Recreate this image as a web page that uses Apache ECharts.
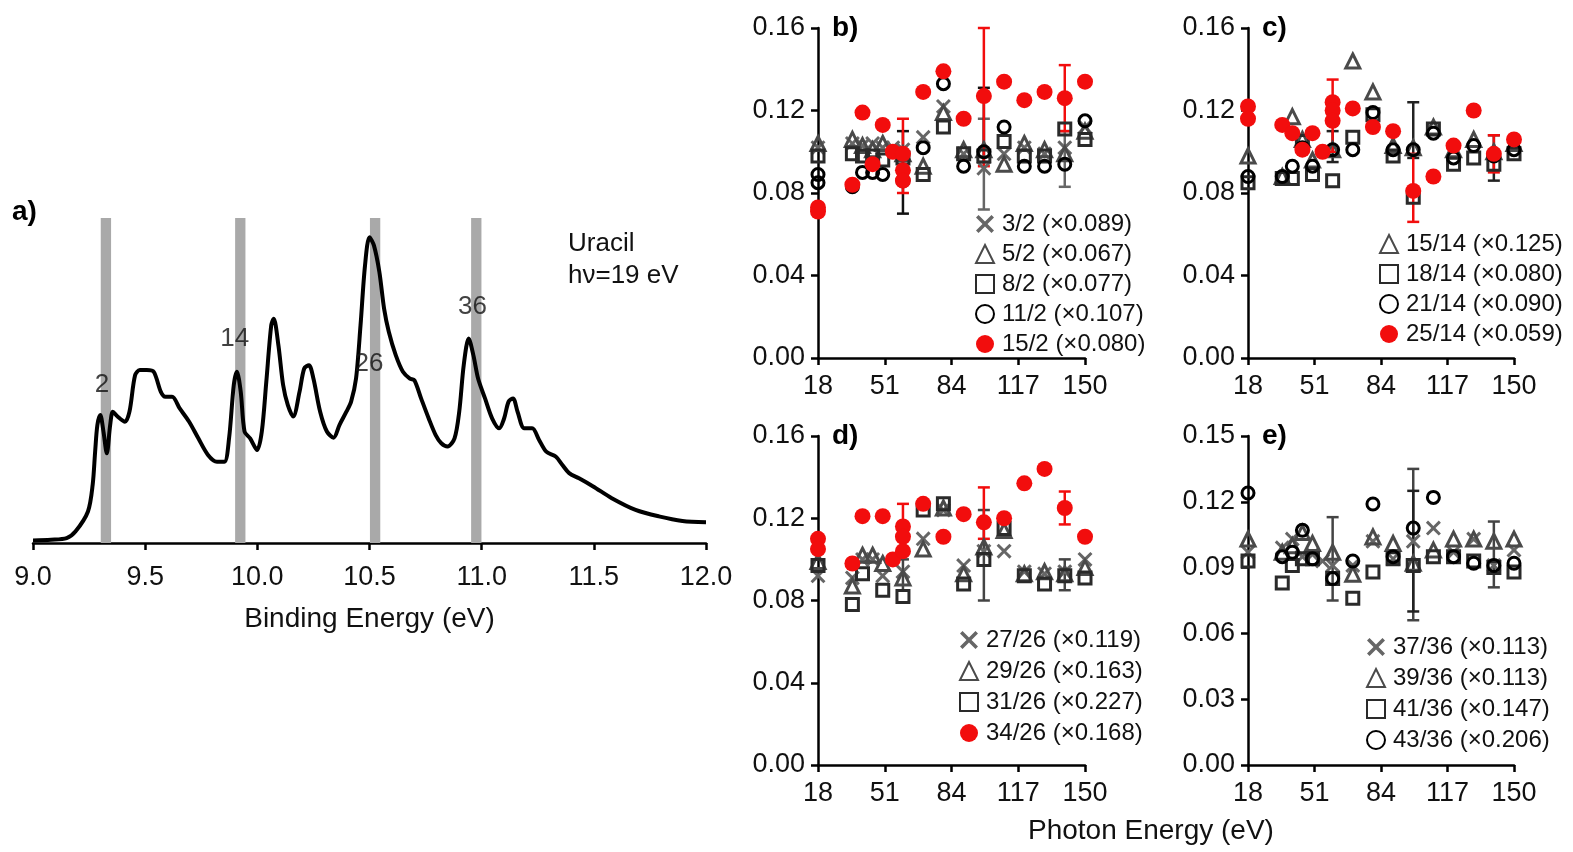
<!DOCTYPE html>
<html>
<head>
<meta charset="utf-8">
<script src="https://cdn.jsdelivr.net/npm/echarts@6/dist/echarts.min.js"></script>
<style>
  html, body { margin: 0; padding: 0; background: #fff; }
  #chart { width: 1573px; height: 852px; }
</style>
</head>
<body>
<div id="chart"></div>
<script>
// ---- panel a: photoelectron spectrum ----
const spectrumEnergy = [9.0, 9.08, 9.15, 9.19, 9.245, 9.266, 9.277, 9.287, 9.30, 9.314, 9.329, 9.344, 9.356, 9.377, 9.41, 9.43,
  9.455, 9.476, 9.507, 9.538, 9.57, 9.59, 9.62, 9.654, 9.696, 9.737, 9.78, 9.82, 9.853, 9.874, 9.895, 9.909, 9.926,
  9.943, 9.968, 9.999, 10.02, 10.04, 10.062, 10.073, 10.094, 10.115, 10.136, 10.16, 10.188, 10.209, 10.23, 10.25,
  10.28, 10.31, 10.34, 10.366, 10.397, 10.418, 10.44, 10.46, 10.48, 10.50, 10.52, 10.544, 10.565, 10.586, 10.617,
  10.649, 10.68, 10.70, 10.73, 10.764, 10.795, 10.82, 10.848, 10.879, 10.90, 10.92, 10.942, 10.963, 10.984, 11.015,
  11.047, 11.078, 11.10, 11.12, 11.14, 11.16, 11.19, 11.225, 11.256, 11.288, 11.33, 11.36, 11.39, 11.434, 11.497,
  11.58, 11.686, 11.79, 11.895, 12.0];
const spectrumIntensity = [0.008, 0.010, 0.015, 0.036, 0.097, 0.179, 0.281, 0.363, 0.394, 0.343, 0.276, 0.363, 0.404, 0.389, 0.373, 0.404,
  0.516, 0.532, 0.532, 0.527, 0.465, 0.450, 0.450, 0.414, 0.373, 0.322, 0.271, 0.250, 0.250, 0.322, 0.486, 0.527, 0.465,
  0.343, 0.322, 0.286, 0.343, 0.496, 0.670, 0.690, 0.608, 0.486, 0.424, 0.389, 0.465, 0.537, 0.547, 0.506,
  0.404, 0.343, 0.324, 0.363, 0.404, 0.435, 0.506, 0.670, 0.854, 0.941, 0.915, 0.834, 0.721, 0.650, 0.578,
  0.527, 0.506, 0.501, 0.445, 0.383, 0.332, 0.307, 0.297, 0.322, 0.404, 0.547, 0.629, 0.578, 0.506, 0.445,
  0.383, 0.353, 0.383, 0.435, 0.445, 0.404, 0.353, 0.353, 0.317, 0.281, 0.266, 0.240, 0.215, 0.199, 0.174,
  0.138, 0.102, 0.082, 0.068, 0.064];
const bandRanges = [[9.302, 9.348], [9.901, 9.947], [10.502, 10.548], [10.953, 10.999]];
const bandLabels = ['2', '14', '26', '36'];
const bandLabelPos = [[9.308, 0.486], [9.899, 0.629], [10.498, 0.552], [10.959, 0.726]];
const bindingTicks = [9.0, 9.5, 10.0, 10.5, 11.0, 11.5, 12.0];

// ---- panels b-e: photon energy dependence ----
const photonTicks = [18, 51, 84, 117, 150];

// b) ratios to band 2
const b_3_2 = [[18, 0.102], [35, 0.104], [40, 0.103], [45, 0.104], [50, 0.102], [55, 0.102], [60, 0.101], [70, 0.107], [80, 0.122], [90, 0.099], [100, 0.092], [110, 0.099], [120, 0.102], [130, 0.099], [140, 0.102], [150, 0.112]];
const b_5_2 = [[18, 0.104], [35, 0.106], [40, 0.103], [45, 0.101], [50, 0.104], [60, 0.099], [70, 0.093], [80, 0.119], [90, 0.101], [100, 0.101], [110, 0.094], [120, 0.104], [130, 0.101], [140, 0.099], [150, 0.110]];
const b_8_2 = [[18, 0.098], [35, 0.099], [40, 0.098], [45, 0.098], [50, 0.096], [60, 0.097], [70, 0.089], [80, 0.112], [90, 0.099], [100, 0.098], [110, 0.105], [120, 0.098], [130, 0.098], [140, 0.111], [150, 0.106]];
const b_11_2 = [[18, 0.089], [18, 0.085], [35, 0.083], [40, 0.090], [45, 0.090], [50, 0.089], [60, 0.086], [70, 0.102], [80, 0.133], [90, 0.093], [100, 0.100], [110, 0.112], [120, 0.093], [130, 0.093], [140, 0.094], [150, 0.115]];
const b_15_2 = [[18, 0.073], [18, 0.071], [35, 0.084], [40, 0.119], [45, 0.094], [50, 0.113], [55, 0.100], [60, 0.099], [60, 0.091], [60, 0.086], [70, 0.129], [80, 0.139], [90, 0.116], [100, 0.127], [110, 0.134], [120, 0.125], [130, 0.129], [140, 0.126], [150, 0.134]];
const b_errGray = [[100, 0.072, 0.116], [140, 0.083, 0.110]];
const b_errBlack = [[60, 0.070, 0.110], [100, 0.095, 0.131]];
const b_errRed = [[60, 0.080, 0.116], [100, 0.093, 0.160], [140, 0.110, 0.142]];

// c) ratios to band 14
const c_15_14 = [[18, 0.098], [35, 0.088], [40, 0.117], [45, 0.106], [50, 0.096], [60, 0.101], [70, 0.144], [80, 0.129], [90, 0.103], [100, 0.102], [110, 0.112], [120, 0.101], [130, 0.106], [140, 0.100], [150, 0.104]];
const c_18_14 = [[18, 0.085], [35, 0.087], [40, 0.087], [45, 0.105], [50, 0.089], [60, 0.086], [70, 0.107], [80, 0.118], [90, 0.098], [100, 0.078], [110, 0.111], [120, 0.094], [130, 0.097], [140, 0.094], [150, 0.099]];
const c_21_14 = [[18, 0.088], [35, 0.088], [40, 0.093], [45, 0.102], [50, 0.093], [60, 0.101], [70, 0.101], [80, 0.119], [90, 0.101], [100, 0.101], [110, 0.109], [120, 0.097], [130, 0.103], [140, 0.098], [150, 0.101]];
const c_25_14 = [[18, 0.122], [18, 0.116], [35, 0.113], [40, 0.109], [45, 0.101], [50, 0.109], [55, 0.100], [60, 0.124], [60, 0.120], [60, 0.115], [70, 0.121], [80, 0.112], [90, 0.110], [100, 0.081], [110, 0.088], [120, 0.103], [130, 0.120], [140, 0.099], [150, 0.106]];
const c_errBlack = [[60, 0.095, 0.110], [100, 0.097, 0.124], [140, 0.086, 0.108]];
const c_errRed = [[60, 0.100, 0.135], [100, 0.066, 0.099], [140, 0.090, 0.108]];

// d) ratios to band 26
const d_27_26 = [[18, 0.092], [35, 0.091], [40, 0.100], [45, 0.100], [50, 0.092], [60, 0.094], [70, 0.110], [80, 0.124], [90, 0.097], [100, 0.104], [110, 0.104], [120, 0.094], [130, 0.093], [140, 0.094], [150, 0.100]];
const d_29_26 = [[18, 0.099], [35, 0.087], [40, 0.102], [45, 0.102], [50, 0.098], [60, 0.091], [70, 0.105], [80, 0.125], [90, 0.093], [100, 0.106], [110, 0.114], [120, 0.093], [130, 0.094], [140, 0.093], [150, 0.096]];
const d_31_26 = [[18, 0.097], [35, 0.078], [40, 0.093], [50, 0.085], [60, 0.082], [70, 0.124], [80, 0.127], [90, 0.088], [100, 0.100], [110, 0.115], [120, 0.092], [130, 0.088], [140, 0.092], [150, 0.091]];
const d_34_26 = [[18, 0.110], [18, 0.105], [35, 0.098], [40, 0.121], [50, 0.121], [55, 0.100], [60, 0.116], [60, 0.111], [60, 0.104], [70, 0.127], [80, 0.111], [90, 0.122], [100, 0.118], [110, 0.120], [120, 0.137], [130, 0.144], [140, 0.125], [150, 0.111]];
const d_errGray = [[60, 0.085, 0.100], [100, 0.080, 0.124], [140, 0.085, 0.100]];
const d_errRed = [[60, 0.104, 0.127], [100, 0.110, 0.135], [140, 0.117, 0.133]];

// e) ratios to band 36
const e_37_36 = [[18, 0.097], [35, 0.099], [40, 0.103], [45, 0.095], [50, 0.096], [55, 0.093], [60, 0.091], [70, 0.091], [80, 0.102], [90, 0.094], [100, 0.102], [110, 0.108], [120, 0.097], [130, 0.103], [140, 0.091], [150, 0.098]];
const e_39_36 = [[18, 0.103], [35, 0.097], [40, 0.100], [45, 0.106], [50, 0.101], [60, 0.097], [70, 0.087], [80, 0.104], [90, 0.101], [100, 0.092], [110, 0.098], [120, 0.103], [130, 0.103], [140, 0.102], [150, 0.103]];
const e_41_36 = [[18, 0.093], [35, 0.083], [40, 0.091], [45, 0.094], [50, 0.094], [60, 0.085], [70, 0.076], [80, 0.088], [90, 0.094], [100, 0.091], [110, 0.095], [120, 0.095], [130, 0.093], [140, 0.090], [150, 0.088]];
const e_43_36 = [[18, 0.124], [35, 0.095], [40, 0.097], [45, 0.107], [50, 0.094], [60, 0.085], [70, 0.093], [80, 0.119], [90, 0.095], [100, 0.108], [110, 0.122], [120, 0.095], [130, 0.092], [140, 0.091], [150, 0.092]];
const e_errGray = [[60, 0.075, 0.113], [100, 0.066, 0.135], [140, 0.081, 0.111]];
const e_errBlack = [[100, 0.070, 0.125]];

const FONT = 'Liberation Sans, Arial, sans-serif';
const CROSS = 'path://M1.4,0L5,3.6L8.6,0L10,1.4L6.4,5L10,8.6L8.6,10L5,6.4L1.4,10L0,8.6L3.6,5L0,1.4Z';
const GRAY_X = '#666666', GRAY_TRI = '#4a4a4a', DARK_SQ = '#2a2a2a', BLACK_O = '#000000', RED = '#f20d0d';

const axisCommon = {
  axisLine: { show: true, lineStyle: { color: '#000', width: 2.5 } },
  axisTick: { show: true, length: 7, lineStyle: { color: '#000', width: 2.5 } },
  axisLabel: { color: '#111', fontSize: 27, fontFamily: FONT, margin: 13 },
  splitLine: { show: false }
};

function photonX(gi) {
  return {
    type: 'value', gridIndex: gi, min: 18, max: 150,
    axisLine: axisCommon.axisLine,
    axisTick: { ...axisCommon.axisTick, customValues: photonTicks },
    axisLabel: { ...axisCommon.axisLabel, customValues: photonTicks, margin: 15 },
    splitLine: { show: false }
  };
}
function ratioY(gi, max, step) {
  return {
    type: 'value', gridIndex: gi, min: 0, max: max, interval: step,
    axisLine: axisCommon.axisLine,
    axisTick: axisCommon.axisTick,
    axisLabel: { ...axisCommon.axisLabel, formatter: v => v.toFixed(2) },
    splitLine: { show: false }
  };
}

function marker(name, gi, data, kind) {
  const s = { name: name, type: 'scatter', xAxisIndex: gi, yAxisIndex: gi, data: data };
  if (kind === 'x') {
    s.symbol = CROSS; s.symbolSize = 15; s.itemStyle = { color: GRAY_X, opacity: 1 };
  } else if (kind === 'tri') {
    s.symbol = 'triangle'; s.symbolSize = 14;
    s.itemStyle = { color: 'rgba(255,255,255,0)', borderColor: GRAY_TRI, borderWidth: 3, opacity: 1 };
  } else if (kind === 'sq') {
    s.symbol = 'rect'; s.symbolSize = 12;
    s.itemStyle = { color: 'rgba(255,255,255,0)', borderColor: DARK_SQ, borderWidth: 3, opacity: 1 };
  } else if (kind === 'o') {
    s.symbol = 'circle'; s.symbolSize = 12;
    s.itemStyle = { color: 'rgba(255,255,255,0)', borderColor: BLACK_O, borderWidth: 3, opacity: 1 };
  } else {
    s.symbol = 'circle'; s.symbolSize = 16; s.itemStyle = { color: RED, opacity: 1 };
  }
  return s;
}

function errorBarItem(params, api) {
  const x = api.value(0);
  const lo = api.coord([x, api.value(1)]);
  const hi = api.coord([x, api.value(2)]);
  const w = 6;
  const style = { stroke: api.visual('color'), lineWidth: 2.5 };
  return {
    type: 'group',
    children: [
      { type: 'line', shape: { x1: lo[0], y1: lo[1], x2: hi[0], y2: hi[1] }, style: style },
      { type: 'line', shape: { x1: lo[0] - w, y1: lo[1], x2: lo[0] + w, y2: lo[1] }, style: style },
      { type: 'line', shape: { x1: hi[0] - w, y1: hi[1], x2: hi[0] + w, y2: hi[1] }, style: style }
    ]
  };
}
function errorBars(gi, data, color) {
  return {
    type: 'custom', xAxisIndex: gi, yAxisIndex: gi, data: data,
    encode: { x: 0, y: [1, 2] }, itemStyle: { color: color },
    renderItem: errorBarItem, silent: true, z: 1
  };
}

function legendAt(left, top, names, gap) {
  return {
    data: names, orient: 'vertical', left: left, top: top,
    itemWidth: 18, itemHeight: 18, itemGap: gap, selectedMode: false,
    textStyle: { fontSize: 24, fontFamily: FONT, color: '#111', lineHeight: 24, padding: [0, 0, 0, 3] }
  };
}

const panelLabel = (txt, x, y) => ({
  type: 'text', left: x, top: y,
  style: { text: txt, fontSize: 28, fontWeight: 'bold', fontFamily: FONT, fill: '#000' }
});

const chart = echarts.init(document.getElementById('chart'));
chart.setOption({
  backgroundColor: '#fff',
  animation: false,
  grid: [
    { left: 33, top: 218, width: 673, height: 325 },
    { left: 818, top: 28, width: 267, height: 330 },
    { left: 1248, top: 28, width: 266, height: 330 },
    { left: 818, top: 436, width: 267, height: 329 },
    { left: 1248, top: 436, width: 266, height: 329 }
  ],
  xAxis: [
    {
      type: 'value', gridIndex: 0, min: 9.0, max: 12.0, interval: 0.5,
      axisLine: axisCommon.axisLine,
      axisTick: { ...axisCommon.axisTick, customValues: bindingTicks },
      axisLabel: { ...axisCommon.axisLabel, customValues: bindingTicks, formatter: v => v.toFixed(1), margin: 21 },
      splitLine: { show: false },
      name: 'Binding Energy (eV)', nameLocation: 'middle', nameGap: 62,
      nameTextStyle: { fontSize: 28, fontFamily: FONT, color: '#111' }
    },
    photonX(1), photonX(2), photonX(3), photonX(4)
  ],
  yAxis: [
    { type: 'value', gridIndex: 0, min: 0, max: 1, show: false },
    ratioY(1, 0.16, 0.04), ratioY(2, 0.16, 0.04), ratioY(3, 0.16, 0.04), ratioY(4, 0.15, 0.03)
  ],
  legend: [
    legendAt(970, 207, ['3/2 (\u00d70.089)', '5/2 (\u00d70.067)', '8/2 (\u00d70.077)', '11/2 (\u00d70.107)', '15/2 (\u00d70.080)'], 6),
    legendAt(1374, 227, ['15/14 (\u00d70.125)', '18/14 (\u00d70.080)', '21/14 (\u00d70.090)', '25/14 (\u00d70.059)'], 6),
    legendAt(954, 623, ['27/26 (\u00d70.119)', '29/26 (\u00d70.163)', '31/26 (\u00d70.227)', '34/26 (\u00d70.168)'], 7),
    legendAt(1361, 630, ['37/36 (\u00d70.113)', '39/36 (\u00d70.113)', '41/36 (\u00d70.147)', '43/36 (\u00d70.206)'], 7)
  ],
  graphic: [
    panelLabel('a)', 12, 198),
    panelLabel('b)', 832, 14),
    panelLabel('c)', 1262, 14),
    panelLabel('d)', 832, 422),
    panelLabel('e)', 1262, 422),
    { type: 'text', left: 568, top: 231, style: { text: 'Uracil', fontSize: 26, fontFamily: FONT, fill: '#111' } },
    { type: 'text', left: 568, top: 263, style: { text: 'h\u03bd=19 eV', fontSize: 26, fontFamily: FONT, fill: '#111' } },
    { type: 'text', left: 1028, top: 817, style: { text: 'Photon Energy (eV)', fontSize: 28, fontFamily: FONT, fill: '#111' } }
  ],
  series: [
    {
      type: 'line', xAxisIndex: 0, yAxisIndex: 0,
      data: spectrumEnergy.map((e, i) => [e, spectrumIntensity[i]]),
      showSymbol: false, smooth: 0.3,
      lineStyle: { color: '#000', width: 4 }, z: 3,
      markArea: {
        silent: true,
        itemStyle: { color: '#a9a9a9' },
        data: bandRanges.map(r => [{ xAxis: r[0] }, { xAxis: r[1] }])
      }
    },
    {
      type: 'scatter', xAxisIndex: 0, yAxisIndex: 0, symbolSize: 0, z: 4,
      data: bandLabelPos.map((p, i) => ({ value: p, name: bandLabels[i] })),
      label: { show: true, position: 'inside', formatter: '{b}', fontSize: 26, fontFamily: FONT, color: '#111' }
    },

    errorBars(1, b_errGray, GRAY_X), errorBars(1, b_errBlack, '#111'), errorBars(1, b_errRed, RED),
    marker('3/2 (\u00d70.089)', 1, b_3_2, 'x'),
    marker('5/2 (\u00d70.067)', 1, b_5_2, 'tri'),
    marker('8/2 (\u00d70.077)', 1, b_8_2, 'sq'),
    marker('11/2 (\u00d70.107)', 1, b_11_2, 'o'),
    marker('15/2 (\u00d70.080)', 1, b_15_2, 'red'),

    errorBars(2, c_errBlack, '#222'), errorBars(2, c_errRed, RED),
    marker('15/14 (\u00d70.125)', 2, c_15_14, 'tri'),
    marker('18/14 (\u00d70.080)', 2, c_18_14, 'sq'),
    marker('21/14 (\u00d70.090)', 2, c_21_14, 'o'),
    marker('25/14 (\u00d70.059)', 2, c_25_14, 'red'),

    errorBars(3, d_errGray, '#444'), errorBars(3, d_errRed, RED),
    marker('27/26 (\u00d70.119)', 3, d_27_26, 'x'),
    marker('29/26 (\u00d70.163)', 3, d_29_26, 'tri'),
    marker('31/26 (\u00d70.227)', 3, d_31_26, 'sq'),
    marker('34/26 (\u00d70.168)', 3, d_34_26, 'red'),

    errorBars(4, e_errGray, '#444'), errorBars(4, e_errBlack, '#222'),
    marker('37/36 (\u00d70.113)', 4, e_37_36, 'x'),
    marker('39/36 (\u00d70.113)', 4, e_39_36, 'tri'),
    marker('41/36 (\u00d70.147)', 4, e_41_36, 'sq'),
    marker('43/36 (\u00d70.206)', 4, e_43_36, 'o')
  ]
});
</script>
</body>
</html>
